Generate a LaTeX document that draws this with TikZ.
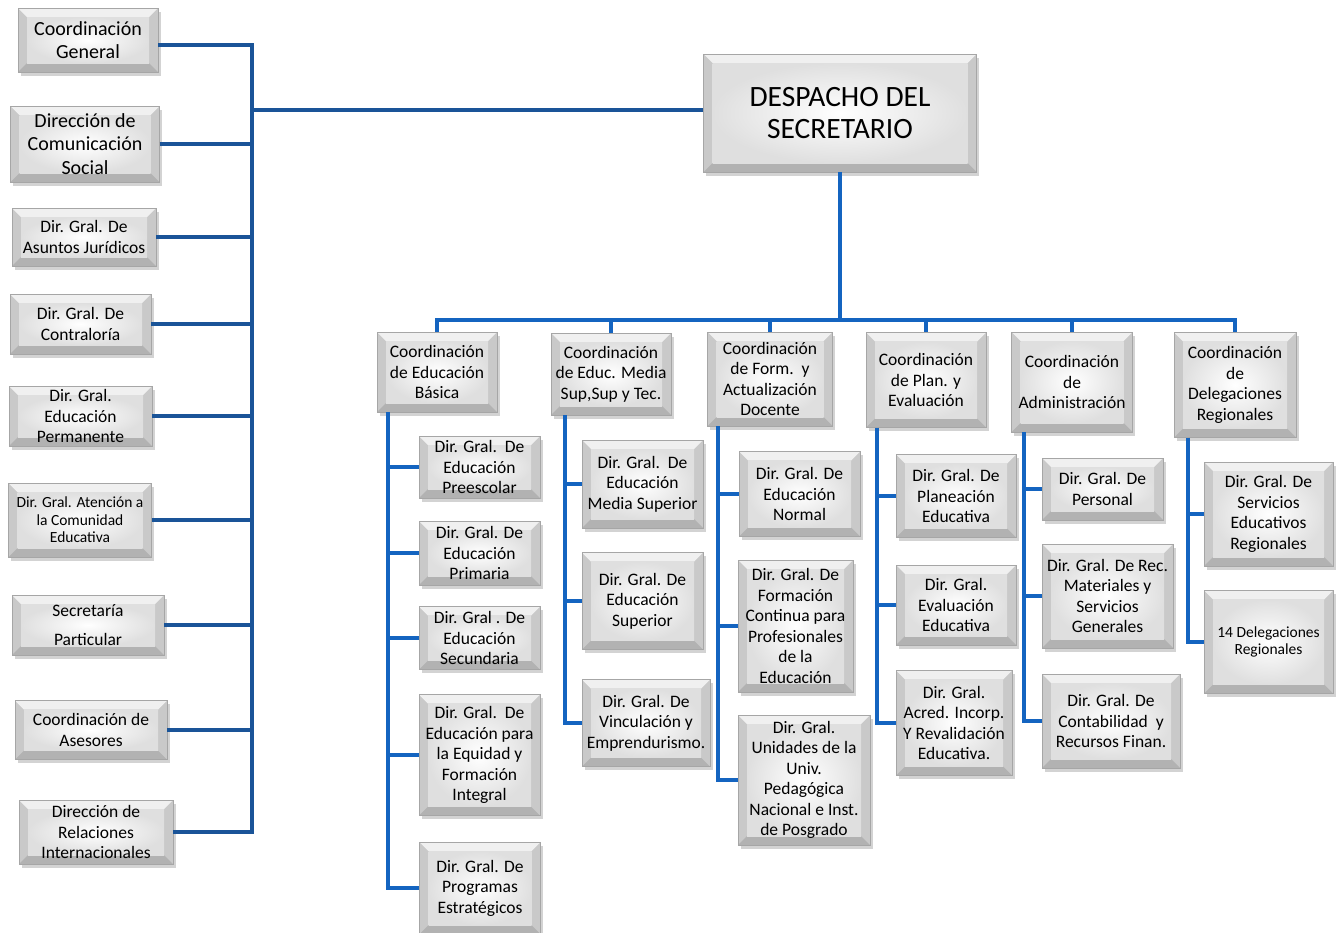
\documentclass[tikz,border=0pt]{standalone}
\usepackage{fontspec}
\setmainfont{Carlito}
\usepackage{tikz}
\usetikzlibrary{shadows}
\definecolor{busdark}{RGB}{26,84,152}
\definecolor{busblue}{RGB}{20,100,192}
\tikzset{
    bevel-box/.style = {draw=gray!70, fill=gray!42, rectangle, inner sep=1pt, align=center,
        font=\fontsize{17.5}{20.5}\selectfont,
        drop shadow={shadow xshift=2.5pt, shadow yshift=-3.5pt, opacity=0.35},
        path picture={
            \fill[gray!12] (path picture bounding box.north west) -- (path picture bounding box.north east)
                -- ([shift={(-9pt,-9pt)}]path picture bounding box.north east) -- ([shift={(9pt,-9pt)}]path picture bounding box.north west) -- cycle;
            \fill[gray!60] (path picture bounding box.south west) -- (path picture bounding box.south east)
                -- ([shift={(-9pt,9pt)}]path picture bounding box.south east) -- ([shift={(9pt,9pt)}]path picture bounding box.south west) -- cycle;
            \shade[inner color=white, outer color=gray!25] ([shift={(9pt,-9pt)}]path picture bounding box.north west) rectangle ([shift={(-9pt,9pt)}]path picture bounding box.south east);
        }},
    big-text/.style = {font=\fontsize{20}{23.5}\selectfont},
    small-text/.style = {font=\fontsize{15.5}{17.5}\selectfont},
    bus-left/.style = {draw=busdark, line width=4pt},
    bus-right/.style = {draw=busblue, line width=4pt},
}

\begin{document}
\begin{tikzpicture}[x=1pt, y=-1pt]
\useasboundingbox (0,0) rectangle (1343,932);

% despacho
\node[bevel-box, minimum width=273pt, minimum height=118pt, font=\fontsize{29.5}{32}\selectfont] (despacho) at (840,113) {DESPACHO DEL\\SECRETARIO};

% staff del lado izquierdo
\node[bevel-box, big-text, minimum width=140pt, minimum height=64pt] (coordgral) at (88,40) {Coordinación\\General};
\node[bevel-box, big-text, minimum width=149pt, minimum height=76pt] (comsocial) at (85,144) {Dirección de\\Comunicación\\Social};
\node[bevel-box, minimum width=144pt, minimum height=58pt] (juridicos) at (84,237) {Dir. Gral. De\\Asuntos Jurídicos};
\node[bevel-box, minimum width=141pt, minimum height=60pt] (contraloria) at (80.5,324) {Dir. Gral. De\\Contraloría};
\node[bevel-box, minimum width=143pt, minimum height=60pt] (permanente) at (80.5,416) {Dir. Gral.\\Educación\\Permanente};
\node[bevel-box, small-text, minimum width=143pt, minimum height=74pt] (comunidad) at (80,520) {Dir. Gral. Atención a\\la Comunidad\\Educativa};
\node[bevel-box, minimum width=152pt, minimum height=60pt] (particular) at (88,625) {Secretaría\\[8pt]Particular};
\node[bevel-box, minimum width=152pt, minimum height=59pt] (asesores) at (91,730) {Coordinación de\\Asesores};
\node[bevel-box, minimum width=154pt, minimum height=64pt] (relaciones) at (96,832) {Dirección de\\Relaciones\\Internacionales};

% coordinaciones
\node[bevel-box, minimum width=120pt, minimum height=80pt] (cbasica) at (437,372) {Coordinación\\de Educación\\Básica};
\node[bevel-box, minimum width=120pt, minimum height=82pt] (cmedia) at (611,374) {Coordinación\\de Educ. Media\\Sup,Sup y Tec.};
\node[bevel-box, minimum width=125pt, minimum height=94pt] (cformacion) at (770,379) {Coordinación\\de Form.\ \ y\\Actualización\\Docente};
\node[bevel-box, minimum width=120pt, minimum height=95pt] (cplaneacion) at (926,380) {Coordinación\\de Plan. y\\Evaluación};
\node[bevel-box, minimum width=121pt, minimum height=100pt] (cadmin) at (1072,382) {Coordinación\\de\\Administración};
\node[bevel-box, minimum width=122pt, minimum height=105pt] (cdelegaciones) at (1235,385) {Coordinación\\de\\Delegaciones\\Regionales};

% direcciones generales
\node[bevel-box, minimum width=121pt, minimum height=62pt] (preescolar) at (479.5,467) {Dir. Gral.\ \ De\\Educación\\Preescolar};
\node[bevel-box, minimum width=121pt, minimum height=64pt] (primaria) at (479.5,553) {Dir. Gral. De\\Educación\\Primaria};
\node[bevel-box, minimum width=121pt, minimum height=63pt] (secundaria) at (479.5,638) {Dir. Gral . De\\Educación\\Secundaria};
\node[bevel-box, minimum width=121pt, minimum height=121pt] (equidad) at (479.5,755) {Dir. Gral.\ \ De\\Educación para\\la Equidad y\\Formación\\Integral};
\node[bevel-box, minimum width=121pt, minimum height=92pt] (programas) at (480,888) {Dir. Gral. De\\Programas\\Estratégicos};

\node[bevel-box, minimum width=121pt, minimum height=88pt] (mediasup) at (642.5,484) {Dir. Gral.\ \ De\\Educación\\Media Superior};
\node[bevel-box, minimum width=121pt, minimum height=97pt] (superior) at (642.5,601) {Dir. Gral. De\\Educación\\Superior};
\node[bevel-box, minimum width=128pt, minimum height=87pt] (vinculacion) at (646,723) {Dir. Gral. De\\Vinculación y\\Emprendurismo.};

\node[bevel-box, minimum width=121pt, minimum height=85pt] (normal) at (799.5,494) {Dir. Gral. De\\Educación\\Normal};
\node[bevel-box, minimum width=115pt, minimum height=132pt] (continua) at (795.5,626) {Dir. Gral. De\\Formación\\Continua para\\Profesionales\\de la\\Educación};
\node[bevel-box, minimum width=132pt, minimum height=130pt] (upn) at (804,780) {Dir. Gral.\\Unidades de la\\Univ.\\Pedagógica\\Nacional e Inst.\\de Posgrado};

\node[bevel-box, minimum width=120pt, minimum height=83pt] (planeacion) at (956,496) {Dir. Gral. De\\Planeación\\Educativa};
\node[bevel-box, minimum width=120pt, minimum height=80pt] (evaluacion) at (956,605) {Dir. Gral.\\Evaluación\\Educativa};
\node[bevel-box, minimum width=116pt, minimum height=105pt] (acred) at (954,723) {Dir. Gral.\\Acred. Incorp.\\Y Revalidación\\Educativa.};

\node[bevel-box, minimum width=121pt, minimum height=62pt] (personal) at (1102.5,489) {Dir. Gral. De\\Personal};
\node[bevel-box, minimum width=131pt, minimum height=104pt] (recmat) at (1107.5,596) {Dir. Gral. De Rec.\\Materiales y\\Servicios\\Generales};
\node[bevel-box, minimum width=138pt, minimum height=94pt] (contab) at (1111,721) {Dir. Gral. De\\Contabilidad\ \ y\\Recursos Finan.};

\node[bevel-box, minimum width=129pt, minimum height=104pt] (serveduc) at (1268.5,514) {Dir. Gral. De\\Servicios\\Educativos\\Regionales};
\node[bevel-box, small-text, minimum width=129pt, minimum height=103pt] (delegaciones) at (1268.5,642) {14 Delegaciones\\Regionales};

% lineas
\coordinate (busL) at (252,0);
\coordinate (busT) at (0,320);
\draw[bus-left] ([yshift=-5pt]coordgral.east) -- ([yshift=-5pt]coordgral.east -| busL) -- (relaciones.east -| busL) -- (relaciones.east);
\foreach \staff in {comsocial, juridicos, contraloria, permanente, comunidad, particular, asesores}
    \draw[bus-left] (\staff.east) -- (\staff.east -| busL);
\draw[bus-left] ([yshift=3pt]despacho.west) -- ([yshift=3pt]despacho.west -| busL);

\draw[bus-right] (despacho.south) -- (despacho.south |- busT);
\draw[bus-right] (cbasica.north) -- (cbasica.north |- busT) -- (cdelegaciones.north |- busT) -- (cdelegaciones.north);
\foreach \coord in {cmedia, cformacion, cplaneacion, cadmin}
    \draw[bus-right] (\coord.north |- busT) -- (\coord.north);

\foreach \jefe/\xv/\ultimo in {cbasica/388/programas, cmedia/565/vinculacion, cformacion/718/upn,
        cplaneacion/877/acred, cadmin/1024/contab, cdelegaciones/1188/delegaciones}
    \draw[bus-right] (\xv,0 |- \jefe.south) -- (\xv,0 |- \ultimo.west) -- (\ultimo.west);
\foreach \hijo/\xv in {preescolar/388, primaria/388, secundaria/388, equidad/388,
        mediasup/565, superior/565, normal/718, continua/718,
        planeacion/877, evaluacion/877, personal/1024, recmat/1024, serveduc/1188}
    \draw[bus-right] (\xv,0 |- \hijo.west) -- (\hijo.west);
\end{tikzpicture}
\end{document}
